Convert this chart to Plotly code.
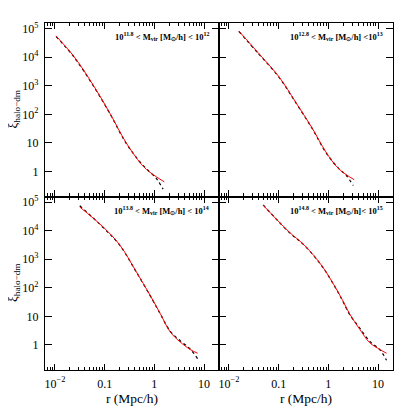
import plotly.graph_objs as pltgo
from plotly.subplots import make_subplots

# radius in Mpc/h, xi_halo-dm
r_1 = [0.0105, 0.0245, 0.059, 0.129, 0.269, 0.537, 0.76, 1.12, 1.58]
fit_1 = [56000, 10200, 1050, 105, 10.2, 1.86, 1.02, 0.63, 0.43]
rs_1 = [0.0105, 0.0245, 0.059, 0.129, 0.269, 0.537, 0.76, 1.05, 1.2, 1.5]
sim_1 = [54000, 9800, 1000, 102, 9.8, 1.95, 1.05, 0.62, 0.45, 0.24]

r_2 = [0.0158, 0.0398, 0.102, 0.219, 0.479, 0.891, 1.62, 3.31]
fit_2 = [83000, 13500, 2040, 269, 31.6, 4.8, 1.23, 0.51]
rs_2 = [0.0158, 0.0398, 0.102, 0.219, 0.479, 0.891, 1.62, 2.24, 3.16]
sim_2 = [80000, 13000, 1980, 262, 30.5, 4.6, 1.25, 0.76, 0.32]

r_3 = [0.0316, 0.0933, 0.204, 0.417, 0.832, 1.32, 2.09, 3.31, 5.25, 7.41]
fit_3 = [67600, 13500, 3090, 407, 52.5, 12.3, 2.82, 1.26, 0.69, 0.51]
rs_3 = [0.0316, 0.0933, 0.204, 0.417, 0.832, 1.32, 2.09, 3.31, 5.25, 7.41]
sim_3 = [75000, 13000, 3000, 400, 51, 12.0, 3.0, 1.40, 0.72, 0.33]

r_4 = [0.049, 0.155, 0.339, 0.741, 1.35, 1.95, 2.69, 4.27, 6.76, 11.0, 14.8]
fit_4 = [77600, 9770, 2950, 589, 112, 35.5, 12.0, 3.55, 1.20, 0.68, 0.51]
rs_4 = [0.049, 0.155, 0.339, 0.741, 1.35, 1.95, 2.69, 4.27, 6.76, 11.0, 14.8]
sim_4 = [80000, 9500, 2900, 580, 110, 34, 11.5, 3.9, 1.35, 0.66, 0.29]

labels = [
    "10<sup>11.8</sup> < M<sub>vir</sub> [M<sub>⊙</sub>/h] < 10<sup>12</sup>",
    "10<sup>12.8</sup> < M<sub>vir</sub> [M<sub>⊙</sub>/h] <10<sup>13</sup>",
    "10<sup>13.8</sup> < M<sub>vir</sub> [M<sub>⊙</sub>/h] < 10<sup>14</sup>",
    "10<sup>14.8</sup> < M<sub>vir</sub> [M<sub>⊙</sub>/h]< 10<sup>15</sup>",
]

x_ticks = [0.01, 0.1, 1, 10]
x_text = ["10<sup>−2</sup>", "0.1", "1", "10"]
y_ticks = [1, 10, 100, 1e3, 1e4, 1e5]
y_text = ["1", "10", "10<sup>2</sup>", "10<sup>3</sup>", "10<sup>4</sup>", "10<sup>5</sup>"]

minor_x = [k * 10 ** d for d in range(-3, 2) for k in range(2, 10)]

FONT = "Liberation Serif"

fig = make_subplots(rows=2, cols=2, horizontal_spacing=0, vertical_spacing=0)

panels = [(r_1, fit_1, rs_1, sim_1), (r_2, fit_2, rs_2, sim_2),
          (r_3, fit_3, rs_3, sim_3), (r_4, fit_4, rs_4, sim_4)]

for i, (r, fit, rs, sim) in enumerate(panels):
    row, col = i // 2 + 1, i % 2 + 1
    fig.add_trace(pltgo.Scatter(x=rs, y=sim, mode="lines", line_shape="spline",
                                line=dict(color="black", width=1.2, dash="dot"),
                                showlegend=False), row=row, col=col)
    fig.add_trace(pltgo.Scatter(x=r, y=fit, mode="lines", line_shape="spline",
                                line=dict(color="#ff0000", width=1),
                                showlegend=False), row=row, col=col)
    fig.update_xaxes(type="log", range=[-2.2, 1.3], showgrid=False, zeroline=False,
                     showline=True, linecolor="black", linewidth=1.2, mirror="ticks",
                     ticks="inside", ticklen=6, tickcolor="black",
                     tickvals=x_ticks, ticktext=x_text, showticklabels=(row == 2),
                     ticklabelstandoff=2, automargin=False,
                     tickfont=dict(family=FONT, size=12, color="black"),
                     minor=dict(tickmode="array", tickvals=minor_x, ticks="inside",
                                ticklen=3, tickcolor="black", showgrid=False),
                     row=row, col=col)
    fig.update_yaxes(type="log", range=[-0.88, 5.2], showgrid=False, zeroline=False,
                     showline=True, linecolor="black", linewidth=1.2, mirror="ticks",
                     ticks="inside", ticklen=7, tickcolor="black",
                     tickvals=y_ticks, ticktext=y_text, showticklabels=(col == 1),
                     ticklabelstandoff=3, automargin=False,
                     tickfont=dict(family=FONT, size=12, color="black"),
                     row=row, col=col)
    n = "" if i == 0 else str(i + 1)
    fig.add_annotation(text=labels[i], xref="x" + n + " domain", yref="y" + n + " domain",
                       x=0.955, y=0.92, xanchor="right", yanchor="middle", showarrow=False,
                       font=dict(family=FONT, size=8.5, color="black", weight="bold"))

for yc in [0.75, 0.25]:
    fig.add_annotation(text="ξ<sub>halo−dm</sub>", xref="paper", yref="paper",
                       x=-0.09, y=yc, xanchor="center", yanchor="middle",
                       textangle=-90, showarrow=False,
                       font=dict(family=FONT, size=13, color="black"))
for xc in [0.25, 0.75]:
    fig.add_annotation(text="r (Mpc/h)", xref="paper", yref="paper",
                       x=xc, y=-0.081, xanchor="center", yanchor="middle", showarrow=False,
                       font=dict(family=FONT, size=13.5, color="black"))

# the page body adds 8px around the plot, margins are cut by that much
fig.update_layout(width=407, height=407, margin=dict(l=37, r=22, t=15, b=45),
                  plot_bgcolor="white", paper_bgcolor="white")
fig.write_html("out.html")
